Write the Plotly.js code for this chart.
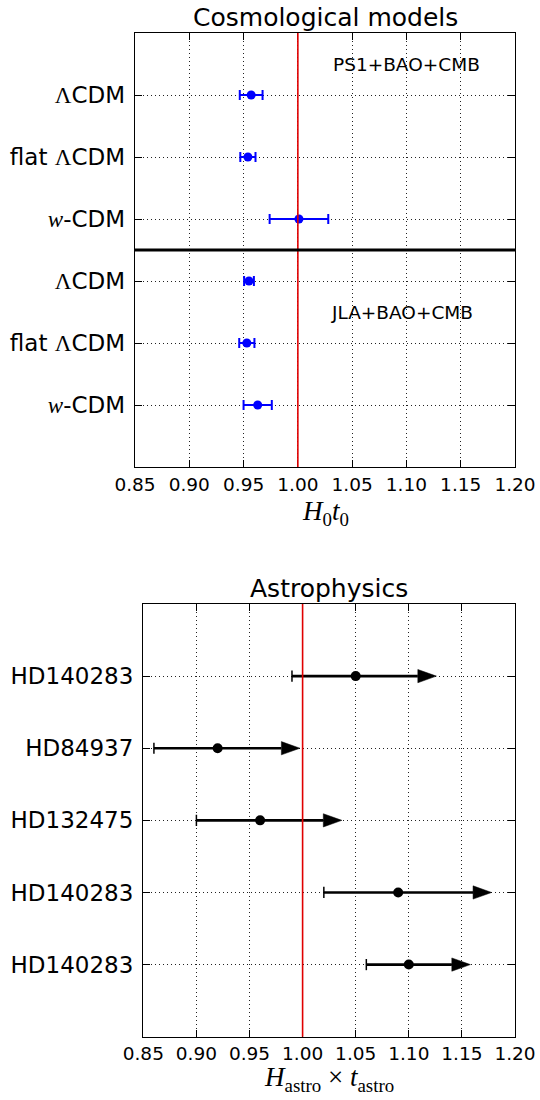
<!DOCTYPE html>
<html>
<head>
<meta charset="utf-8">
<script src="https://cdn.plot.ly/plotly-3.0.1.min.js"></script>
<style>html,body{margin:0;padding:0;background:#fff;}</style>
</head>
<body>
<div id="chart" style="width:540px;height:1100px;"></div>
<script>
// ---------- data: cosmological models (top panel, listed top to bottom) ----------
const cosmoLabels = ['ΛCDM', 'flat ΛCDM', 'w-CDM'];
const ps1Values = [0.957, 0.954, 1.001];
const ps1Errors = [0.0105, 0.007, 0.027];
const jlaValues = [0.955, 0.953, 0.963];
const jlaErrors = [0.0045, 0.007, 0.013];
const datasetNames = ['PS1+BAO+CMB', 'JLA+BAO+CMB'];

// ---------- data: astrophysics (bottom panel, listed top to bottom) ----------
const starNames = ['HD140283', 'HD84937', 'HD132475', 'HD140283', 'HD140283'];
const starValues = [1.05, 0.92, 0.96, 1.09, 1.10];
const starLower = [0.99, 0.86, 0.90, 1.02, 1.06];
const starArrowTip = [1.126, 0.9975, 1.037, 1.178, 1.158];

const xTicks = [0.85, 0.90, 0.95, 1.00, 1.05, 1.10, 1.15, 1.20];

// ---------- styling ----------
const LBL_FONT = 'DejaVu Sans, sans-serif';
const MATH_FONT = 'Liberation Serif, DejaVu Serif, serif';
const HEAD_LEN = 0.0175;   // arrow head length in x units
const HEAD_HALF = 0.092;   // arrow head half-height in row units

function fmtLabel(s) {
  return s.replace('Λ', '<span style="font-family:Liberation Serif">Λ</span>')
          .replace(/^w-/, '<span style="font-family:Liberation Serif"><i>w</i></span>-');
}

const nCos = cosmoLabels.length;
const ps1Rows = cosmoLabels.map((_, i) => 2 * nCos - 1 - i);
const jlaRows = cosmoLabels.map((_, i) => nCos - 1 - i);
const nStar = starNames.length;
const starRows = starNames.map((_, i) => nStar - 1 - i);

const traces = [];
traces.push({
  x: ps1Values, y: ps1Rows, xaxis: 'x', yaxis: 'y', type: 'scatter', mode: 'markers',
  marker: {color: 'blue', size: 9},
  error_x: {type: 'data', array: ps1Errors, color: 'blue', thickness: 2, width: 5},
  showlegend: false, name: datasetNames[0]
});
traces.push({
  x: jlaValues, y: jlaRows, xaxis: 'x', yaxis: 'y', type: 'scatter', mode: 'markers',
  marker: {color: 'blue', size: 9},
  error_x: {type: 'data', array: jlaErrors, color: 'blue', thickness: 2, width: 5},
  showlegend: false, name: datasetNames[1]
});

// shafts
const shaftX = [], shaftY = [];
starRows.forEach((r, i) => {
  shaftX.push(starLower[i], starArrowTip[i] - HEAD_LEN, null);
  shaftY.push(r, r, null);
});
traces.push({
  x: shaftX, y: shaftY, xaxis: 'x2', yaxis: 'y2', type: 'scatter', mode: 'lines',
  line: {color: 'black', width: 2.6}, showlegend: false, hoverinfo: 'skip'
});
// heads
starRows.forEach((r, i) => {
  const tip = starArrowTip[i], base = tip - HEAD_LEN;
  traces.push({
    x: [base, tip, base, base], y: [r - HEAD_HALF, r, r + HEAD_HALF, r - HEAD_HALF],
    xaxis: 'x2', yaxis: 'y2', type: 'scatter', mode: 'lines', fill: 'toself',
    fillcolor: 'black', line: {color: 'black', width: 0.5}, showlegend: false, hoverinfo: 'skip'
  });
});
// lower caps
traces.push({
  x: starLower, y: starRows, xaxis: 'x2', yaxis: 'y2', type: 'scatter', mode: 'markers',
  marker: {symbol: 'line-ns', size: 8, line: {color: 'black', width: 1.5}},
  showlegend: false, hoverinfo: 'skip'
});
// dots
traces.push({
  x: starValues, y: starRows, xaxis: 'x2', yaxis: 'y2', type: 'scatter', mode: 'markers',
  marker: {color: 'black', size: 10}, showlegend: false
});

const W = 540, H = 1100;
const boxTop = {l: 135, r: 515, t: 33, b: 467};
const boxBot = {l: 143.3, r: 515, t: 604, b: 1036.7};

const axisCommon = {
  showline: true, linecolor: 'black', linewidth: 1.3, mirror: 'ticks',
  ticks: 'inside', ticklen: 7, tickwidth: 1, tickcolor: 'black',
  showgrid: true, gridcolor: '#222', gridwidth: 1, griddash: '1px,3px',
  zeroline: false, fixedrange: true
};
const xCommon = Object.assign({}, axisCommon, {
  range: [0.85, 1.20], tickvals: xTicks, ticktext: xTicks.map(v => v.toFixed(2)),
  tickfont: {family: LBL_FONT, size: 18.5, color: 'black'}
});

const layout = {
  width: W, height: H,
  margin: {l: 0, r: 0, t: 0, b: 0},
  paper_bgcolor: 'white', plot_bgcolor: 'white',
  showlegend: false,
  xaxis: Object.assign({}, xCommon, {
    anchor: 'y', domain: [boxTop.l / W, boxTop.r / W]
  }),
  yaxis: Object.assign({}, axisCommon, {
    anchor: 'x', domain: [1 - boxTop.b / H, 1 - boxTop.t / H], range: [-1, 2 * nCos],
    tickvals: ps1Rows.concat(jlaRows), ticktext: cosmoLabels.concat(cosmoLabels).map(fmtLabel),
    tickfont: {family: LBL_FONT, size: 23, color: 'black'}, ticklabelstandoff: 4
  }),
  xaxis2: Object.assign({}, xCommon, {
    anchor: 'y2', domain: [boxBot.l / W, boxBot.r / W]
  }),
  yaxis2: Object.assign({}, axisCommon, {
    anchor: 'x2', domain: [1 - boxBot.b / H, 1 - boxBot.t / H], range: [-1, nStar],
    tickvals: starRows, ticktext: starNames,
    tickfont: {family: LBL_FONT, size: 23, color: 'black'}, ticklabelstandoff: 4
  }),
  shapes: [
    {type: 'line', xref: 'x', yref: 'y domain', x0: 1.0, x1: 1.0, y0: 0, y1: 1, line: {color: '#e00000', width: 1.6}},
    {type: 'line', xref: 'x domain', yref: 'y', x0: 0, x1: 1, y0: nCos - 0.5, y1: nCos - 0.5, line: {color: 'black', width: 3}},
    {type: 'line', xref: 'x2', yref: 'y2 domain', x0: 1.0, x1: 1.0, y0: 0, y1: 1, line: {color: '#e00000', width: 1.6}}
  ],
  annotations: [
    {xref: 'x domain', yref: 'y domain', x: 0.5, y: 1, yanchor: 'bottom', yshift: -1, showarrow: false,
     text: 'Cosmological models', font: {family: LBL_FONT, size: 25, color: 'black'}},
    {xref: 'x2 domain', yref: 'y2 domain', x: 0.5, y: 1, yanchor: 'bottom', yshift: -1, showarrow: false,
     text: 'Astrophysics', font: {family: LBL_FONT, size: 25, color: 'black'}},
    {xref: 'x domain', yref: 'paper', x: 0.5, y: 1 - 513 / H, yanchor: 'middle', showarrow: false,
     text: '<i>H</i><sub>0</sub><i>t</i><sub>0</sub>', font: {family: MATH_FONT, size: 27, color: 'black'}},
    {xref: 'x2 domain', yref: 'paper', x: 0.5, y: 1 - 1079 / H, yanchor: 'middle', showarrow: false,
     text: '<i>H</i><sub>astro</sub> × <i>t</i><sub>astro</sub>', font: {family: MATH_FONT, size: 27, color: 'black'}},
    {xref: 'x', yref: 'y', x: 1.1003, y: 2 * nCos - 0.5, showarrow: false,
     text: datasetNames[0], font: {family: LBL_FONT, size: 18.5, color: 'black'}},
    {xref: 'x', yref: 'y', x: 1.0956, y: nCos - 1.5, showarrow: false,
     text: datasetNames[1], font: {family: LBL_FONT, size: 18.5, color: 'black'}}
  ]
};

Plotly.newPlot('chart', traces, layout, {displayModeBar: false, staticPlot: true});
</script>
</body>
</html>
